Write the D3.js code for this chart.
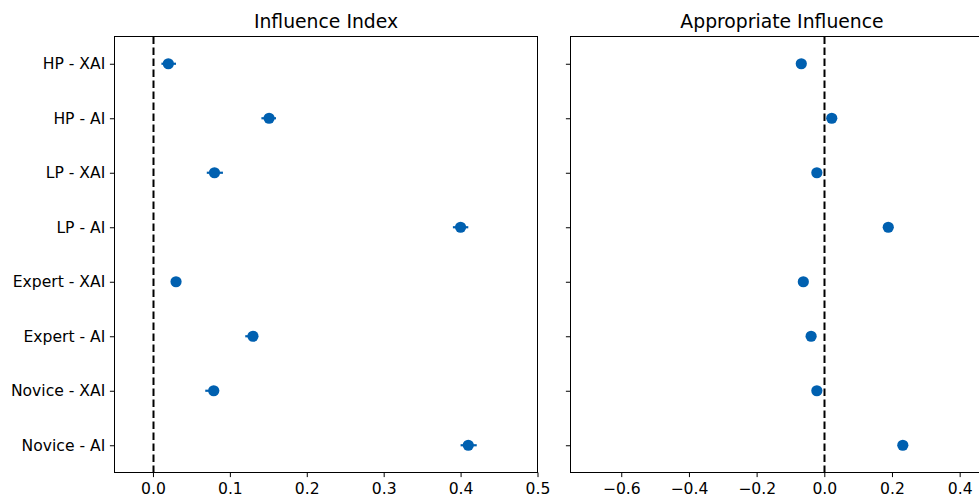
<!DOCTYPE html>
<html>
<head>
<meta charset="utf-8">
<script src="https://cdn.jsdelivr.net/npm/d3@7"></script>
<style>
  html, body { margin: 0; padding: 0; background: #fff; }
  svg { display: block; font-family: "DejaVu Sans", sans-serif; }
</style>
</head>
<body>
<svg id="chart" width="979" height="496"></svg>
<script>
const categories = ["HP - XAI", "HP - AI", "LP - XAI", "LP - AI", "Expert - XAI", "Expert - AI", "Novice - XAI", "Novice - AI"];
const influenceIndex = [0.020, 0.151, 0.080, 0.400, 0.030, 0.130, 0.079, 0.410];
const influenceLow   = [0.011, 0.141, 0.070, 0.390, 0.026, 0.120, 0.068, 0.400];
const influenceHigh  = [0.030, 0.160, 0.091, 0.410, 0.034, 0.136, 0.086, 0.421];
const appropriateInfluence = [-0.068, 0.022, -0.022, 0.189, -0.062, -0.039, -0.022, 0.232];
const leftTicks = [0.0, 0.1, 0.2, 0.3, 0.4, 0.5];
const rightTicks = [-0.6, -0.4, -0.2, 0.0, 0.2, 0.4];

const svg = d3.select("#chart");
const blue = "#0060b0";
const plotTop = 36.5, plotBottom = 472.5;

const y = d3.scalePoint().domain(categories).range([plotTop, plotBottom]).padding(0.5);

function panel(x0, x1, domain, ticks, title, values, lows, highs, showLabels) {
  const x = d3.scaleLinear().domain(domain).range([x0, x1]);
  const g = svg.append("g");

  // zero reference line
  g.append("line")
    .attr("x1", Math.round(x(0)) + 0.5).attr("x2", Math.round(x(0)) + 0.5)
    .attr("y1", plotTop).attr("y2", plotBottom)
    .attr("stroke", "#000").attr("stroke-width", 2)
    .attr("stroke-dasharray", "7.4,3.6");

  // x axis
  const xAxis = d3.axisBottom(x).tickValues(ticks).tickFormat(d3.format(".1f")).tickSize(4.6).tickPadding(5.5);
  const gx = g.append("g").attr("transform", `translate(0,${plotBottom})`).call(xAxis);
  gx.select(".domain").remove();
  gx.selectAll("line").attr("stroke", "#000").attr("stroke-width", 1);
  gx.selectAll("text").attr("font-size", 15.6).attr("fill", "#000").attr("font-family", "DejaVu Sans");

  // y axis
  const yAxis = d3.axisLeft(y).tickSize(4.6).tickPadding(4.6);
  if (!showLabels) yAxis.tickFormat("");
  const gy = g.append("g").attr("transform", `translate(${x0},0)`).call(yAxis);
  gy.select(".domain").remove();
  gy.selectAll("line").attr("stroke", "#000").attr("stroke-width", 1);
  gy.selectAll("text").attr("font-size", 15.6).attr("fill", "#000").attr("font-family", "DejaVu Sans");

  // error bars
  if (lows) {
    g.selectAll(".err").data(categories).enter().append("line")
      .attr("x1", (d, i) => x(lows[i])).attr("x2", (d, i) => x(highs[i]))
      .attr("y1", d => y(d)).attr("y2", d => y(d))
      .attr("stroke", blue).attr("stroke-width", 2.2);
  }

  // points
  g.selectAll(".pt").data(categories).enter().append("circle")
    .attr("cx", (d, i) => x(values[i])).attr("cy", d => y(d))
    .attr("r", 5.6).attr("fill", blue);

  // frame
  g.append("rect").attr("x", x0).attr("y", plotTop).attr("width", x1 - x0).attr("height", plotBottom - plotTop)
    .attr("fill", "none").attr("stroke", "#000").attr("stroke-width", 1);

  // title
  g.append("text").attr("x", (x0 + x1) / 2).attr("y", plotTop - 9)
    .attr("text-anchor", "middle").attr("font-size", 18.8).attr("fill", "#000")
    .text(title);
}

panel(114.5, 537.5, [-0.05, 0.5], leftTicks, "Influence Index", influenceIndex, influenceLow, influenceHigh, true);
panel(570.5, 993.5, [-0.75, 0.5], rightTicks, "Appropriate Influence", appropriateInfluence, null, null, false);
</script>
</body>
</html>
